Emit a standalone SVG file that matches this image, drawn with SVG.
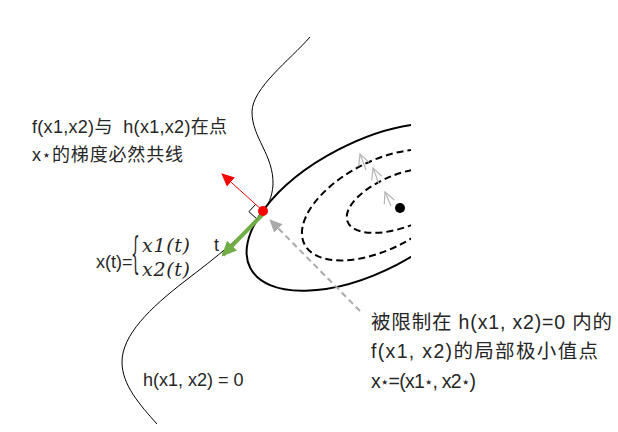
<svg xmlns="http://www.w3.org/2000/svg" width="618" height="432" viewBox="0 0 618 432">
<style>
.t{font-family:"Liberation Sans","Noto Sans CJK SC",sans-serif;font-size:18px;fill:#262626}
.r{font-size:19.5px}
.s{font-family:"DejaVu Sans",sans-serif;font-size:15px}
.m{font-family:"DejaVu Serif","Liberation Serif",serif;font-style:italic;font-size:19px;fill:#262626}
.ell{fill:none;stroke:#000;stroke-width:2}
.dash{stroke-dasharray:7 4}
.chev{stroke:#b4b4b4;stroke-width:1.2}
</style>
<defs>
<clipPath id="clip"><rect x="0" y="0" width="411" height="432"/></clipPath>
<marker id="ar" markerUnits="userSpaceOnUse" markerWidth="14" markerHeight="12" refX="12" refY="6" orient="auto"><path d="M0,0 L13,6 L0,12 Z" fill="#ff0000"/></marker>
<marker id="ag" markerUnits="userSpaceOnUse" markerWidth="16" markerHeight="14" refX="13" refY="7" orient="auto"><path d="M0,0 L15,7 L0,14 Z" fill="#70ad47"/></marker>
<marker id="agr" markerUnits="userSpaceOnUse" markerWidth="14" markerHeight="12" refX="12" refY="6" orient="auto"><path d="M0,0 L13,6 L0,12 Z" fill="#aaaaaa"/></marker>
<marker id="ao" markerUnits="userSpaceOnUse" markerWidth="14" markerHeight="14" refX="12" refY="7" orient="auto"><path d="M1,1.5 L12,7 L1,12.5" fill="none" stroke="#b4b4b4" stroke-width="1.2"/></marker>
</defs>
<g id="contours" clip-path="url(#clip)">
<ellipse class="ell" cx="368" cy="207" rx="132.6" ry="64.5" transform="rotate(-27.4 368 207)"/>
<ellipse class="ell dash" cx="381" cy="205" rx="86" ry="44" transform="rotate(-27.2 381 205)"/>
<ellipse class="ell dash" cx="402" cy="200.4" rx="58.4" ry="26.4" transform="rotate(-21.3 402 200.4)"/>
</g>
<g id="constraint-curve">
<path d="M310,37 C290,60 252,88 252,112 C252,138 274,155 273,185 C272,198 268,205 263,211 C245,235 215,258 185,281 C150,308 122,335 122,362 C122,385 140,405 157,424" fill="none" stroke="#000" stroke-width="1"/>
</g>
<g id="connectors">
<line class="chev" x1="366" y1="170" x2="360" y2="154" marker-end="url(#ao)"/>
<line class="chev" x1="379" y1="184" x2="373" y2="168" marker-end="url(#ao)"/>
<line class="chev" x1="391" y1="206" x2="385" y2="192" marker-end="url(#ao)"/>
<line x1="360" y1="311" x2="270" y2="220" stroke="#aaaaaa" stroke-width="2" stroke-dasharray="6 4" marker-end="url(#agr)"/>
<line x1="263" y1="211" x2="222" y2="174" stroke="#ff0000" stroke-width="1" marker-end="url(#ar)"/>
<line x1="264" y1="213" x2="223" y2="255" stroke="#70ad47" stroke-width="4" marker-end="url(#ag)"/>
<polyline points="255.6,204.3 248.9,211.7 256.3,218.4" fill="none" stroke="#000" stroke-width="1"/>
</g>
<g id="min-point"><circle cx="400" cy="208" r="5" fill="#000"/></g>
<g id="tangent-point"><circle cx="263" cy="211" r="5" fill="#ff0000"/></g>
<g id="label-collinear">
<text class="t" x="32" y="133" textLength="195" lengthAdjust="spacing">f(x1,x2)与&#160;&#160;h(x1,x2)在点</text>
<text class="t" x="32" y="161" textLength="151" lengthAdjust="spacing">x<tspan class="s" dy="-1">⋆</tspan><tspan dy="1">的梯度必然共线</tspan></text>
</g>
<g id="label-param">
<text class="t" x="96" y="268">x(t)=</text>
<text x="131" y="268" font-family="DejaVu Serif,serif" font-size="42" fill="#262626" transform="scale(0.33 1)" transform-origin="131 268">{</text>
<text class="m" x="142" y="252" textLength="48" lengthAdjust="spacing">x1(t)</text>
<text class="m" x="142" y="276" textLength="48" lengthAdjust="spacing">x2(t)</text>
<text class="t" x="214" y="251">t</text>
</g>
<g id="label-h"><text class="t" x="143" y="386">h(x1, x2) = 0</text></g>
<g id="label-min">
<text class="t r" x="371" y="329" textLength="241" lengthAdjust="spacing">被限制在 h(x1, x2)=0 内的</text>
<text class="t r" x="371" y="358" textLength="227" lengthAdjust="spacing">f(x1, x2)的局部极小值点</text>
<text class="t r" x="371" y="388" textLength="105" lengthAdjust="spacing">x<tspan class="s" dy="-1">⋆</tspan><tspan dy="1">=(x1</tspan><tspan class="s" dy="-1">⋆</tspan><tspan dy="1">, x2</tspan><tspan class="s" dy="-1">⋆</tspan><tspan dy="1">)</tspan></text>
</g>
</svg>
